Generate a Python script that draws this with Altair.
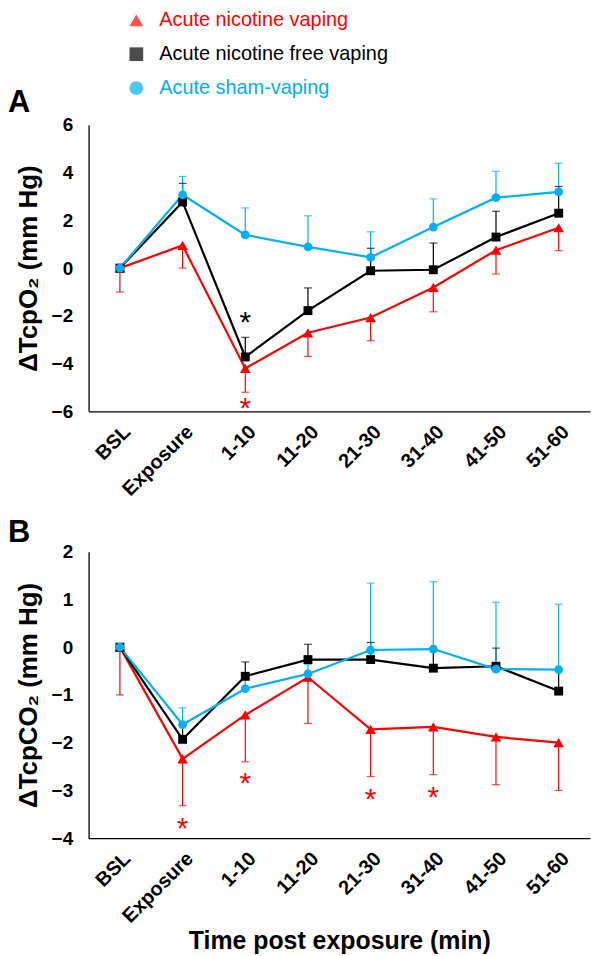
import altair as alt
import pandas as pd

FONT = "Liberation Sans"

categories = ["BSL", "Exposure", "1-10", "11-20", "21-30", "31-40", "41-50", "51-60"]
series_names = ["Acute nicotine vaping", "Acute nicotine free vaping", "Acute sham-vaping"]
series_colors = ["#FF0000", "#000000", "#00B0F0"]
series_shapes = ["triangle-up", "square", "circle"]
series_sizes = [115, 80, 78]
err_direction = [-1, 1, 1]  # red bars point down, others up

# Panel A: delta TcpO2 (mm Hg)
a_nic = [0, 0.95, -4.20, -2.71, -2.07, -0.81, 0.75, 1.69]
a_nic_err = [1.0, 0.95, 1.0, 0.99, 0.97, 1.02, 1.0, 0.96]
a_free = [0, 2.77, -3.72, -1.78, -0.11, -0.07, 1.30, 2.30]
a_free_err = [0, 0.78, 0.82, 0.95, 0.94, 1.12, 1.08, 1.12]
a_sham = [0, 3.07, 1.39, 0.89, 0.45, 1.72, 2.95, 3.19]
a_sham_err = [0, 0.77, 1.13, 1.30, 1.07, 1.18, 1.10, 1.20]

# Panel B: delta TcpCO2 (mm Hg)
b_nic = [0, -2.34, -1.42, -0.63, -1.72, -1.67, -1.88, -2.00]
b_nic_err = [1.0, 0.98, 0.98, 0.97, 0.99, 1.0, 1.0, 1.0]
b_free = [0, -1.93, -0.61, -0.26, -0.26, -0.44, -0.40, -0.92]
b_free_err = [0, 0.30, 0.30, 0.32, 0.36, 0.40, 0.38, 0.45]
b_sham = [0, -1.62, -0.87, -0.56, -0.06, -0.04, -0.46, -0.47]
b_sham_err = [0, 0.35, 0.25, 0.20, 1.40, 1.41, 1.40, 1.37]

# significance stars
a_star_cats = ["1-10", "1-10"]
a_star_vals = [-5.7, -2.1]
a_star_series = ["Acute nicotine vaping", "Acute nicotine free vaping"]
b_star_cats = ["Exposure", "1-10", "21-30", "31-40"]
b_star_vals = [-3.7, -2.76, -3.09, -3.06]
b_star_series = ["Acute nicotine vaping"] * 4


def build(values, errs):
    rows = []
    for s, name in enumerate(series_names):
        for i, c in enumerate(categories):
            v = values[s][i]
            e = errs[s][i]
            rows.append({"cat": c, "series": name, "value": v,
                         "end": v + err_direction[s] * e, "err": e,
                         "order": s})
    return pd.DataFrame(rows)


df_a = build([a_nic, a_free, a_sham], [a_nic_err, a_free_err, a_sham_err])
df_b = build([b_nic, b_free, b_sham], [b_nic_err, b_free_err, b_sham_err])
stars_a = pd.DataFrame({"cat": a_star_cats, "value": a_star_vals, "series": a_star_series})
stars_b = pd.DataFrame({"cat": b_star_cats, "value": b_star_vals, "series": b_star_series})

label_color_expr = ("datum.label == 'Acute nicotine vaping' ? '#FF0000' : "
                    "(datum.label == 'Acute sham-vaping' ? '#00B0F0' : '#000000')")


def panel(df, stars, ydom, yticks, ytitle, letter, letter_y, with_legend, with_xtitle):
    if with_legend:
        leg = alt.Legend(orient="none", legendX=38, legendY=-115, title=None,
                         labelFontSize=20, labelFont=FONT, labelColor={"expr": label_color_expr},
                         symbolSize=190, symbolStrokeWidth=0, rowPadding=14,
                         labelOffset=13, padding=0, labelLimit=400)
    else:
        leg = None
    color = alt.Color("series:N", scale=alt.Scale(domain=series_names, range=series_colors), legend=leg)
    shape = alt.Shape("series:N", scale=alt.Scale(domain=series_names, range=series_shapes), legend=leg)
    x = alt.X("cat:N", sort=categories,
              scale=alt.Scale(type="point", padding=0.5),
              axis=alt.Axis(title="Time post exposure (min)" if with_xtitle else None,
                            labelAngle=-45, labelFont=FONT, labelFontSize=20,
                            labelFontWeight="bold", labelColor="black", labelPadding=10,
                            ticks=False, domainColor="black", domainWidth=1.3,
                            titleFont=FONT, titleFontSize=25, titleFontWeight="bold",
                            titleColor="black", titlePadding=2))
    y = alt.Y("value:Q", scale=alt.Scale(domain=ydom, nice=False, zero=False),
              axis=alt.Axis(title=ytitle, values=yticks, grid=False, ticks=False,
                            labelFont=FONT, labelFontSize=19, labelFontWeight="bold",
                            labelColor="black", labelPadding=16,
                            domainColor="black", domainWidth=1.3,
                            titleFont=FONT, titleFontSize=26, titleFontWeight="bold",
                            titleColor="black", titlePadding=10))
    base = alt.Chart(df)
    errdf = df[df["err"] > 0]
    rules = alt.Chart(errdf).mark_rule(strokeWidth=1.2).encode(
        x=x, y=y, y2="end:Q", color=color)
    caps = alt.Chart(errdf).mark_tick(thickness=1.2, size=8).encode(
        x=x, y=alt.Y("end:Q"), color=color)
    lines = base.mark_line(strokeWidth=2.2).encode(x=x, y=y, color=color, detail="series:N")
    pts_layers = []
    for name, sz in zip(series_names, series_sizes):
        pts_layers.append(
            base.transform_filter(alt.datum.series == name)
            .mark_point(filled=True, opacity=1, size=sz)
            .encode(x=x, y=y, color=color, shape=shape))
    st = alt.Chart(stars).mark_text(fontSize=30, font=FONT, baseline="alphabetic", dy=14).encode(
        x=x, y=alt.Y("value:Q"),
        color=alt.Color("series:N", scale=alt.Scale(domain=series_names, range=series_colors), legend=None),
        text=alt.value("*"))
    lab = alt.Chart(df.head(1)).mark_text(
        text=letter, fontSize=31, fontWeight="bold", font=FONT, color="black",
        align="left", baseline="alphabetic").encode(
        x=alt.value(-81), y=alt.value(letter_y))
    return alt.layer(rules, caps, lines, *pts_layers, st, lab).properties(width=504, height=288)


chart_a = panel(df_a, stars_a, [-6, 6], [-6, -4, -2, 0, 2, 4, 6], "ΔTcpO₂ (mm Hg)", "A", -13, True, False)
chart_b = panel(df_b, stars_b, [-4, 2], [-4, -3, -2, -1, 0, 1, 2], "ΔTcpCO₂ (mm Hg)", "B", -10, False, True)

chart = alt.vconcat(chart_a, chart_b, spacing=17).resolve_scale(
    color="independent", shape="independent"
).properties(padding={"left": 0, "top": 0, "right": 2, "bottom": 2}).configure_view(stroke=None)

chart.save("out.html", embed_options={"renderer": "svg", "actions": False})
